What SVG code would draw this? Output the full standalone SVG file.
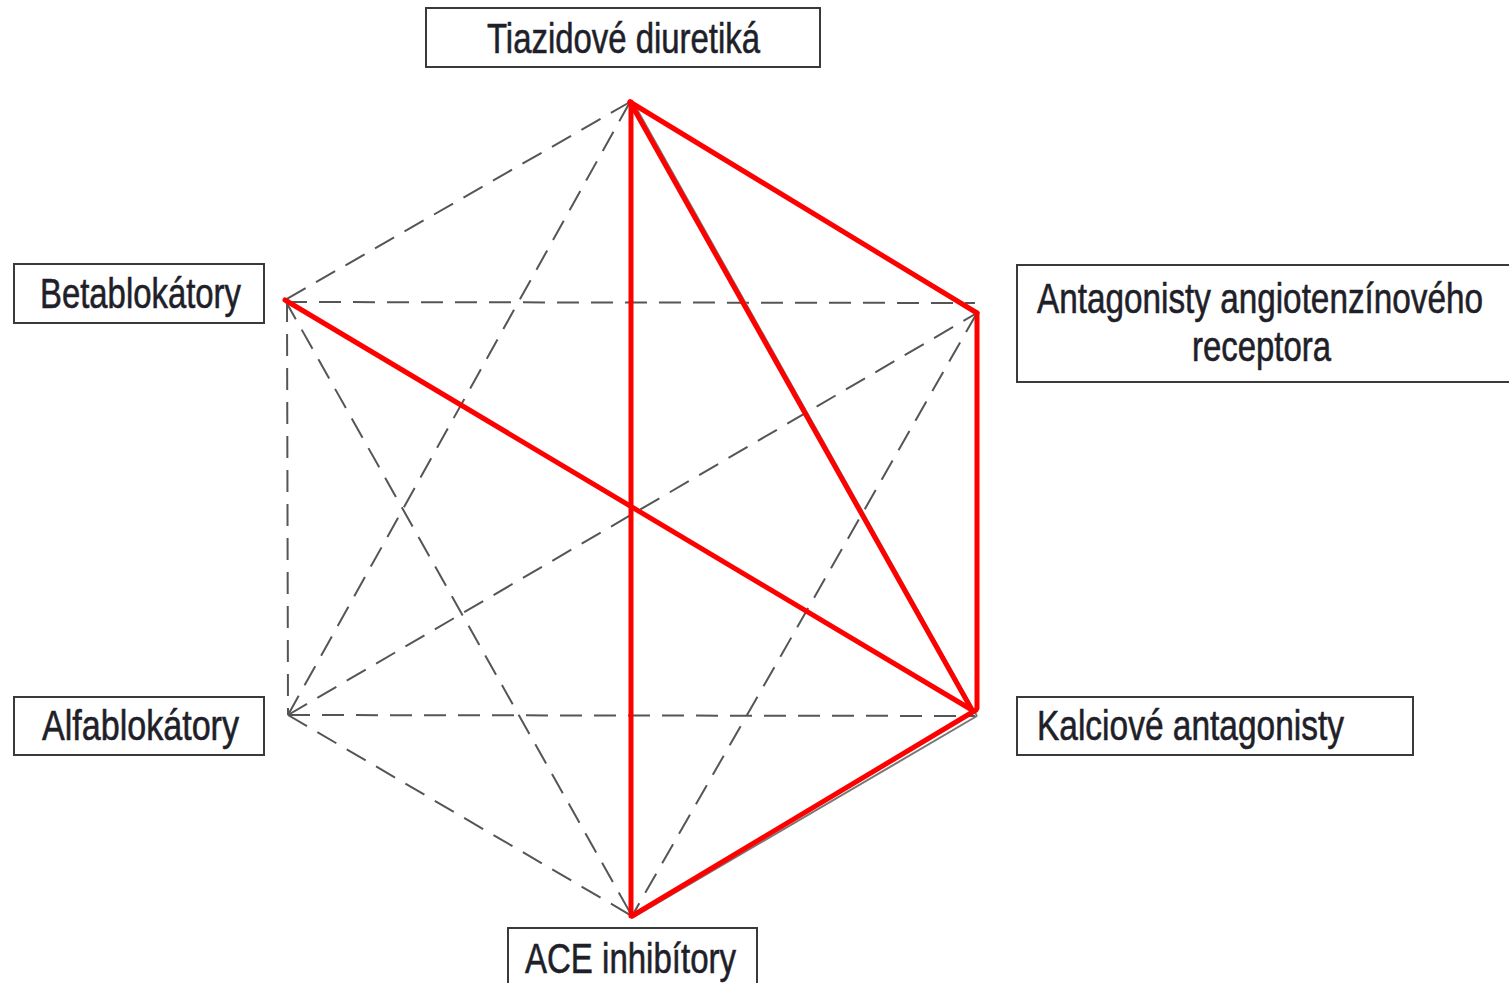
<svg xmlns="http://www.w3.org/2000/svg" width="1509" height="983" viewBox="0 0 1509 983">
<style>
.box{fill:#fff;stroke:#3a3a3a;stroke-width:2}
.lbl{font-family:"Liberation Sans",Arial,sans-serif;font-size:42px;fill:#1f1f2a;stroke:#1f1f2a;stroke-width:0.6}
.dash{stroke:#555;stroke-width:2;stroke-dasharray:22 12;fill:none}
.red{stroke:#f00;stroke-width:5;fill:none;stroke-linecap:round}
.under{stroke:#777;stroke-width:2;fill:none}
</style>
<rect width="1509" height="983" fill="#fff"/>
<g id="connectors">
<line class="dash" x1="630" y1="102" x2="285" y2="300"/>
<line class="dash" x1="630" y1="102" x2="288" y2="715"/>
<line class="dash" x1="285" y1="302" x2="975" y2="303"/>
<line class="dash" x1="287" y1="300" x2="288" y2="715"/>
<line class="dash" x1="285" y1="300" x2="632" y2="916"/>
<line class="dash" x1="288" y1="715" x2="977" y2="313"/>
<line class="dash" x1="288" y1="715" x2="975" y2="716"/>
<line class="dash" x1="288" y1="715" x2="632" y2="916"/>
<line class="dash" x1="977" y1="313" x2="632" y2="916"/>
<line class="under" x1="634" y1="104" x2="977" y2="716"/>
<line class="under" x1="632" y1="918" x2="977" y2="716"/>
<line class="red" x1="630" y1="102" x2="977" y2="313"/>
<line class="red" x1="630" y1="102" x2="972" y2="710"/>
<line class="red" x1="631" y1="102" x2="631" y2="916"/>
<line class="red" x1="977" y1="313" x2="977" y2="708"/>
<line class="red" x1="285" y1="300" x2="972" y2="710"/>
<line class="red" x1="632" y1="916" x2="976" y2="710"/>
</g>
<g id="node-tiazidove">
<rect class="box" x="426" y="8" width="394" height="59"/>
<text class="lbl" x="487" y="53" textLength="273" lengthAdjust="spacingAndGlyphs">Tiazidové diuretiká</text>
</g>
<g id="node-betablokatory">
<rect class="box" x="14" y="264" width="250" height="59"/>
<text class="lbl" x="40" y="308" textLength="201" lengthAdjust="spacingAndGlyphs">Betablokátory</text>
</g>
<g id="node-antagonisty-receptora">
<rect class="box" x="1017" y="265" width="500" height="117"/>
<text class="lbl" x="1037" y="313" textLength="446" lengthAdjust="spacingAndGlyphs">Antagonisty angiotenzínového</text>
<text class="lbl" x="1192" y="361" textLength="139" lengthAdjust="spacingAndGlyphs">receptora</text>
</g>
<g id="node-alfablokatory">
<rect class="box" x="14" y="697" width="250" height="58"/>
<text class="lbl" x="42" y="740" textLength="197" lengthAdjust="spacingAndGlyphs">Alfablokátory</text>
</g>
<g id="node-kalciove">
<rect class="box" x="1017" y="697" width="396" height="58"/>
<text class="lbl" x="1037" y="740" textLength="307" lengthAdjust="spacingAndGlyphs">Kalciové antagonisty</text>
</g>
<g id="node-ace">
<rect class="box" x="508" y="928" width="249" height="70"/>
<text class="lbl" x="525" y="973" textLength="211" lengthAdjust="spacingAndGlyphs">ACE inhibítory</text>
</g>
</svg>
